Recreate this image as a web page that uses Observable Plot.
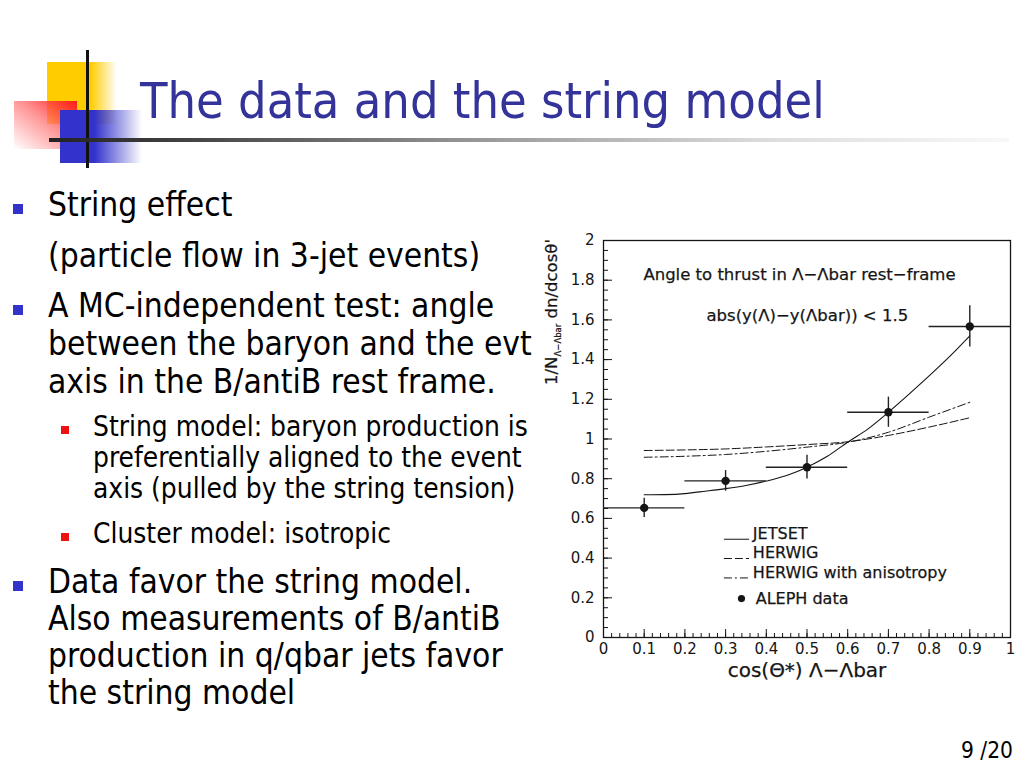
<!DOCTYPE html>
<html><head><meta charset="utf-8">
<script src="https://cdn.jsdelivr.net/npm/d3@7"></script>
<script src="https://cdn.jsdelivr.net/npm/@observablehq/plot@0.6"></script>
<style>
html,body{margin:0;padding:0;background:#fff;width:1024px;height:768px;overflow:hidden;}
body{position:relative;}
.abs{position:absolute;white-space:nowrap;}
.txt{font-family:"DejaVu Sans Condensed","DejaVu Sans",sans-serif;color:#000;}
</style></head><body>
<div class="abs" style="left:47px;top:62px;width:70px;height:62px;background:linear-gradient(to right,#ffcc00 0%,#ffcc00 62%,rgba(255,204,0,0) 100%);"></div>
<div class="abs" style="left:14px;top:101px;width:63px;height:48px;background:linear-gradient(to bottom left,#ff1a1a 0%,rgba(255,110,110,0.75) 45%,rgba(255,255,255,0) 100%);"></div>
<div class="abs" style="left:60px;top:110px;width:82px;height:53px;background:linear-gradient(to right,#3333cc 0%,#3333cc 42%,rgba(51,51,204,0) 100%);"></div>
<div class="abs" style="left:86px;top:50px;width:3px;height:118px;background:#111;"></div>
<div class="abs" style="left:49px;top:138px;width:960px;height:4px;background:linear-gradient(to right,#222 0%,#444 15%,#999 45%,#ddd 75%,#f8f8f8 100%);"></div>
<div id="slide"></div>
<div id="chart" class="abs" style="left:530px;top:225px;"></div>
<script>
// ---- chart data ----
const binCenters = [0.1, 0.3, 0.5, 0.7, 0.9];
const binHalfWidth = [0.1, 0.1, 0.1, 0.1, 0.1];
const alephValues = [0.653, 0.789, 0.858, 1.135, 1.567];
const alephErrors = [0.048, 0.052, 0.060, 0.076, 0.104];

const jetsetX = [0.1, 0.15, 0.2, 0.25, 0.3, 0.35, 0.4, 0.45, 0.5, 0.55, 0.6, 0.65, 0.7, 0.75, 0.8, 0.85, 0.9];
const jetsetY = [0.719, 0.720, 0.725, 0.737, 0.750, 0.766, 0.788, 0.816, 0.858, 0.913, 0.984, 1.051, 1.135, 1.225, 1.318, 1.415, 1.520];

const herwigX = [0.1, 0.2, 0.3, 0.4, 0.5, 0.6, 0.7, 0.8, 0.9];
const herwigY = [0.942, 0.945, 0.950, 0.960, 0.972, 0.986, 1.018, 1.060, 1.107];
const herwigAnisoY = [0.908, 0.913, 0.922, 0.938, 0.959, 0.984, 1.034, 1.110, 1.185];

const xTicks = [0, 0.1, 0.2, 0.3, 0.4, 0.5, 0.6, 0.7, 0.8, 0.9, 1];
const xTickLabels = ["0", "0.1", "0.2", "0.3", "0.4", "0.5", "0.6", "0.7", "0.8", "0.9", "1"];
const yTicks = [0, 0.2, 0.4, 0.6, 0.8, 1, 1.2, 1.4, 1.6, 1.8, 2];
const yTickLabels = ["0", "0.2", "0.4", "0.6", "0.8", "1", "1.2", "1.4", "1.6", "1.8", "2"];

const legendLabels = ["JETSET", "HERWIG", "HERWIG with anisotropy", "ALEPH data"];

const titleText = "The data and the string model";
const annot1 = "Angle to thrust in \u039b\u2212\u039bbar rest\u2212frame";
const annot2 = "abs(y(\u039b)\u2212y(\u039bbar)) < 1.5";
const xLabelText = "cos(\u0398*) \u039b\u2212\u039bbar";

// ---- slide text ----
const ctx = document.createElement("canvas").getContext("2d");
const FAM = '"DejaVu Sans Condensed","DejaVu Sans",sans-serif';
function fit(text, target) { ctx.font = `40px ${FAM}`; return 40 * target / ctx.measureText(text).width; }
const slide = document.getElementById("slide");
function addLine(text, left, cy, fs, color) {
  const d = document.createElement("div");
  d.className = "abs txt";
  const lh = Math.round(fs * 1.3);
  d.style.cssText = `left:${left}px;top:${cy - lh / 2}px;height:${lh}px;line-height:${lh}px;font-size:${fs}px;color:${color || "#000"}`;
  d.textContent = text;
  slide.appendChild(d);
}
function addSquare(cx, cy, s, color) {
  const d = document.createElement("div");
  d.className = "abs";
  d.style.cssText = `left:${cx - s / 2}px;top:${cy - s / 2}px;width:${s}px;height:${s}px;background:${color}`;
  slide.appendChild(d);
}
const titleFs = fit(titleText, 685);
addLine(titleText, 140, 101, titleFs, "#333399");
const mainFs = fit("between the baryon and the evt", 484);
const subFs = fit("String model: baryon production is", 435);
const mainLines = [
  ["String effect", 204, true],
  ["(particle flow in 3-jet events)", 255, false],
  ["A MC-independent test: angle", 305, true],
  ["between the baryon and the evt", 343, false],
  ["axis in the B/antiB rest frame.", 381, false],
  ["Data favor the string model.", 581, true],
  ["Also measurements of B/antiB", 618, false],
  ["production in q/qbar jets favor", 655, false],
  ["the string model", 692, false]
];
const subLines = [
  ["String model: baryon production is", 427, true],
  ["preferentially aligned to the event", 458, false],
  ["axis (pulled by the string tension)", 489, false],
  ["Cluster model: isotropic", 534, true]
];
for (const [t, cy, b] of mainLines) { addLine(t, 48, cy, mainFs); if (b) addSquare(17.5, cy + 5, 10, "#3333cc"); }
for (const [t, cy, b] of subLines) { addLine(t, 93, cy, subFs); if (b) addSquare(65, cy + 3, 8, "#ee1111"); }
addLine("9 /20", 961, 750, fit("9 /20", 52));

// ---- chart ----
const W = 490, H = 470, mL = 73, mR = 10, mT = 15, mB = 58;
const plotW = W - mL - mR, plotH = H - mT - mB;
const xDom = [0, 1], yDom = [0, 2];
const px2x = p => p / plotW * (xDom[1] - xDom[0]);
const px2y = p => p / plotH * (yDom[1] - yDom[0]);
const yMinor = d3.range(0, 2.0001, 0.05).map(v => +v.toFixed(2));
const xMinor = d3.range(0, 1.0001, 0.02).map(v => +v.toFixed(2));

const aleph = binCenters.map((x, i) => ({x, y: alephValues[i], ex: binHalfWidth[i], ey: alephErrors[i]}));
const jetset = jetsetX.map((x, i) => ({x, y: jetsetY[i]}));
const herwig = herwigX.map((x, i) => ({x, y: herwigY[i]}));
const aniso = herwigX.map((x, i) => ({x, y: herwigAnisoY[i]}));

const dashHerwig = "8,3", dashAniso = "8,3,2,3";
const legendTextY = [0.52, 0.428, 0.325, 0.196];
const legendLineY = [0.495, 0.398, 0.30];
const legendTexts = legendLabels.map((t, i) => ({t, y: legendTextY[i], x: i === 3 ? 0.374 : 0.367}));
const legX1 = 0.297, legX2 = 0.359;

const ink = "#151515";
const chartFont = '"DejaVu Sans", sans-serif';
const txtStroke = {stroke: ink, strokeWidth: 0.25};
const plot = Plot.plot({
  width: W, height: H, marginLeft: mL, marginRight: mR, marginTop: mT, marginBottom: mB,
  style: {fontFamily: chartFont, fontSize: "15px", color: ink, background: "transparent", overflow: "visible"},
  x: {domain: xDom},
  y: {domain: yDom},
  marks: [
    Plot.frame({stroke: ink, strokeWidth: 1.3}),
    Plot.ruleY(yMinor, {y: d => d, x1: 0, x2: px2x(5), stroke: ink, strokeWidth: 1}),
    Plot.ruleY(yTicks, {y: d => d, x1: 0, x2: px2x(9), stroke: ink, strokeWidth: 1}),
    Plot.ruleX(xMinor, {x: d => d, y1: 0, y2: px2y(4), stroke: ink, strokeWidth: 1}),
    Plot.ruleX(xTicks, {x: d => d, y1: 0, y2: px2y(8), stroke: ink, strokeWidth: 1}),
    Plot.axisY(yTicks, {tickSize: 0, tickPadding: 9, tickFormat: d => yTickLabels[yTicks.indexOf(d)], fontSize: 15, label: null, ...txtStroke}),
    Plot.axisX(xTicks, {tickSize: 0, tickPadding: 6, tickFormat: d => xTickLabels[xTicks.indexOf(d)], fontSize: 15, label: null, ...txtStroke}),
    Plot.line(herwig, {x: "x", y: "y", stroke: ink, strokeWidth: 1, strokeDasharray: dashHerwig, curve: "monotone-x"}),
    Plot.line(aniso, {x: "x", y: "y", stroke: ink, strokeWidth: 1, strokeDasharray: dashAniso, curve: "monotone-x"}),
    Plot.line(jetset, {x: "x", y: "y", stroke: ink, strokeWidth: 1.1, curve: "monotone-x"}),
    Plot.ruleY(aleph, {y: "y", x1: d => d.x - d.ex, x2: d => d.x + d.ex, stroke: "#222", strokeWidth: 1.4}),
    Plot.ruleX(aleph, {x: "x", y1: d => d.y - d.ey, y2: d => d.y + d.ey, stroke: "#222", strokeWidth: 1.4}),
    Plot.dot(aleph, {x: "x", y: "y", r: 4.2, fill: ink, stroke: null}),
    Plot.text([annot1], {x: 0.098, y: 1.829, text: d => d, textAnchor: "start", fontSize: 16.5, fill: ink, ...txtStroke}),
    Plot.text([annot2], {x: 0.253, y: 1.622, text: d => d, textAnchor: "start", fontSize: 16.5, fill: ink, ...txtStroke}),
    Plot.ruleY([legendLineY[0]], {y: d => d, x1: legX1, x2: legX2, stroke: ink, strokeWidth: 1}),
    Plot.ruleY([legendLineY[1]], {y: d => d, x1: legX1, x2: legX2, stroke: ink, strokeWidth: 1, strokeDasharray: dashHerwig}),
    Plot.ruleY([legendLineY[2]], {y: d => d, x1: legX1, x2: legX2, stroke: ink, strokeWidth: 1, strokeDasharray: dashAniso}),
    Plot.dot([legendTextY[3]], {x: 0.339, y: d => d, r: 3.6, fill: ink, stroke: null}),
    Plot.text(legendTexts, {x: "x", y: "y", text: "t", textAnchor: "start", fontSize: 16, fill: ink, ...txtStroke}),
    Plot.text([xLabelText], {frameAnchor: "bottom", dy: 39, text: d => d, fontSize: 20, fill: ink, ...txtStroke})
  ]
});
document.getElementById("chart").appendChild(plot);
// rotated y-axis title with subscript
const svg = d3.select(plot);
const yl = svg.append("text")
  .attr("transform", `translate(21,${312 - 225}) rotate(-90)`)
  .attr("text-anchor", "middle")
  .attr("font-family", chartFont)
  .attr("font-size", 16.5)
  .attr("fill", ink)
  .attr("stroke", ink)
  .attr("stroke-width", 0.25)
  .attr("dy", 6);
yl.append("tspan").text("1/N");
yl.append("tspan").attr("font-size", 8.5).attr("dy", 4).text("\u039b\u2212\u039bbar");
yl.append("tspan").attr("dy", -4).text(" dn/dcos\u03b8'");
</script>
</body></html>
